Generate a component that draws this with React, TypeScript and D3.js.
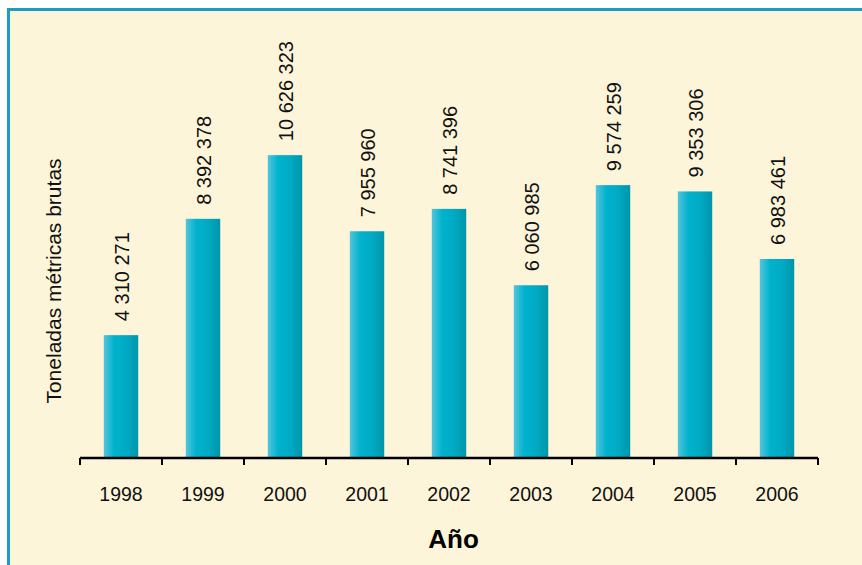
import React from "react";
import * as d3 from "d3";

const years = ["1998", "1999", "2000", "2001", "2002", "2003", "2004", "2005", "2006"];
const values = [4310271, 8392378, 10626323, 7955960, 8741396, 6060985, 9574259, 9353306, 6983461];
const yTitle = "Toneladas métricas brutas";
const xTitle = "Año";

const fmt = (v: number) => d3.format(",")(v).replace(/,/g, " ");

export default function App() {
  const W = 862, H = 565;
  const x0 = 80, x1 = 818, baseY = 458;
  const x = d3.scaleBand<string>().domain(years).range([x0, x1]).paddingInner(0.58).paddingOuter(0.29);
  const y = d3.scaleLinear().domain([0, 12000000]).range([baseY, baseY - 342]);
  const tickXs = d3.range(years.length + 1).map((i) => x0 + (i * (x1 - x0)) / years.length);
  const font = "Arial, 'Liberation Sans', Helvetica, sans-serif";
  const lblSize = 20;
  return (
    <svg width={W} height={H} style={{ position: "absolute", left: 0, top: 0 }} fontFamily={font}>
      <defs>
        <linearGradient id="barg" x1="0" x2="1" y1="0" y2="0">
          <stop offset="0" stopColor="#56c4dc" />
          <stop offset="0.3" stopColor="#00b2cd" />
          <stop offset="0.65" stopColor="#00aac4" />
          <stop offset="1" stopColor="#0095a9" />
        </linearGradient>
      </defs>
      <rect x={0} y={0} width={W} height={H} fill="#ffffff" />
      <rect x={8.5} y={9.5} width={W} height={H} fill="#fdf5d9" stroke="#1a9dbf" strokeWidth={3} />
      {years.map((yr, i) => (
        <rect
          key={yr}
          x={x(yr)!}
          y={y(values[i])}
          width={x.bandwidth()}
          height={baseY - y(values[i])}
          fill="url(#barg)"
        />
      ))}
      {years.map((yr, i) => {
        const cx = x(yr)! + x.bandwidth() / 2 + 1 + lblSize * 0.36;
        const ty = y(values[i]) - 14;
        return (
          <text
            key={"l" + yr}
            transform={`translate(${cx},${ty}) rotate(-90)`}
            textAnchor="start"
            fontSize={lblSize}
            fill="#111"
          >
            {fmt(values[i])}
          </text>
        );
      })}
      <line x1={x0} x2={x1} y1={baseY} y2={baseY} stroke="#000" strokeWidth={2.5} />
      {tickXs.map((tx, i) => (
        <line key={"t" + i} x1={tx} x2={tx} y1={baseY} y2={baseY + 7} stroke="#000" strokeWidth={2} />
      ))}
      {years.map((yr) => (
        <text
          key={"x" + yr}
          x={x(yr)! + x.bandwidth() / 2}
          y={501}
          textAnchor="middle"
          fontSize={19.5}
          fill="#111"
        >
          {yr}
        </text>
      ))}
      <text
        transform={`translate(61,281) rotate(-90)`}
        textAnchor="middle"
        fontSize={21}
        fill="#111"
      >
        {yTitle}
      </text>
      <text x={453.5} y={548} textAnchor="middle" fontSize={26} fontWeight="bold" fill="#000">
        {xTitle}
      </text>
    </svg>
  );
}
